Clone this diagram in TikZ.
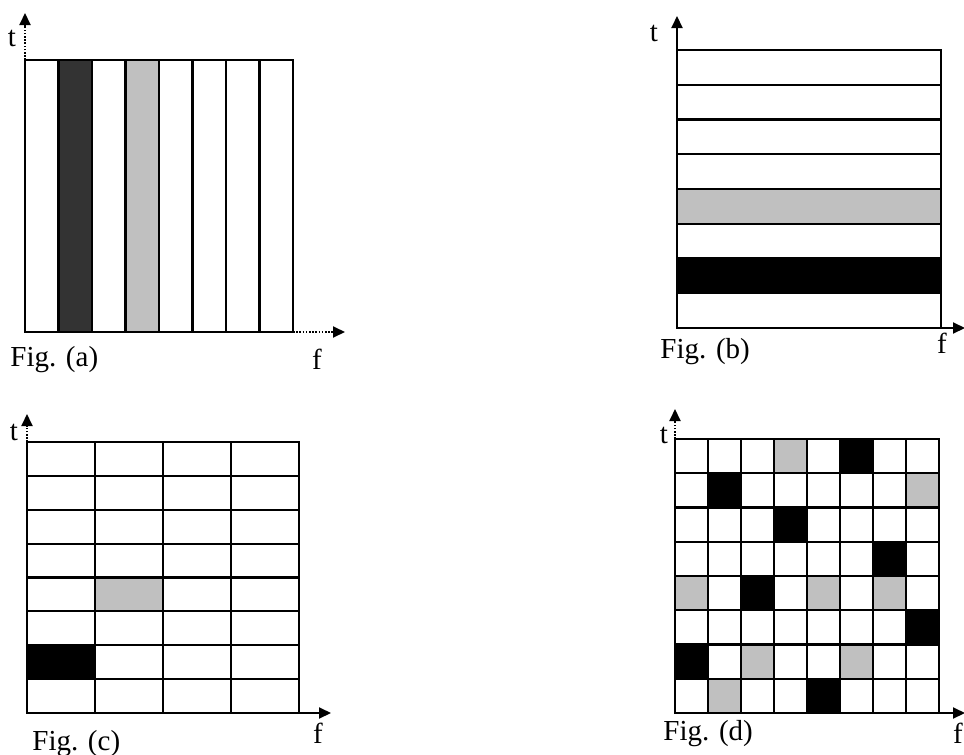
\documentclass[tikz,border=0pt]{standalone}
\usepackage{fontspec}
\setmainfont{Liberation Serif}
\usetikzlibrary{arrows.meta}
\definecolor{celldark}{HTML}{333333}
\definecolor{cellgray}{HTML}{C0C0C0}
\begin{document}
\begin{tikzpicture}[x=0.5pt, y=-0.5pt,
    gridline/.style={line width=1.05pt},
    axis/.style={line width=1pt, -{Triangle[length=6pt,width=5.5pt]}},
    dotaxis/.style={axis, dash pattern=on 0.8pt off 0.8pt},
    label/.style={inner sep=0pt, font=\fontsize{14.5}{17}\selectfont}]
    \useasboundingbox (0,0) rectangle (964,755);

    % Fig. (a): frequency slots
    \fill[celldark] (58.5,60) rectangle (92,332);
    \fill[cellgray] (125.5,60) rectangle (159,332);
    \draw[gridline] (25,60) rectangle (293,332);
    \foreach \i in {1,...,7}
        \draw[gridline] ({25+33.5*\i},60) -- ({25+33.5*\i},332);
    \draw[dotaxis] (25,60) -- (25,13);
    \draw[dotaxis] (293,332) -- (345,332);
    \node[label] (ta) at (12,38) {t};
    \node[label] (fa) at (317,359) {f};
    \node[label, anchor=base west] (capa) at (10,366) {Fig. (a)};

    % Fig. (b): time slots
    \fill[cellgray] (677,189) rectangle (941,223.75);
    \fill[black] (677,258.5) rectangle (941,293.25);
    \draw[gridline] (677,50) rectangle (941,328);
    \foreach \j in {1,...,7}
        \draw[gridline] (677,{50+34.75*\j}) -- (941,{50+34.75*\j});
    \draw[axis] (677,50) -- (677,16);
    \draw[axis] (941,328) -- (965,328);
    \node[label] (tb) at (654,33) {t};
    \node[label, anchor=base] (fb) at (942,353) {f};
    \node[label, anchor=base west] (capb) at (660,358) {Fig. (b)};

    % Fig. (c): time-frequency blocks
    \fill[cellgray] (95,577.5) rectangle (163,611.4);
    \fill[black] (27,645.3) rectangle (95,679.1);
    \draw[gridline] (27,442) rectangle (299,713);
    \foreach \i in {1,...,3}
        \draw[gridline] ({27+68*\i},442) -- ({27+68*\i},713);
    \foreach \j in {1,...,7}
        \draw[gridline] (27,{442+33.875*\j}) -- (299,{442+33.875*\j});
    \draw[dotaxis] (27,442) -- (27,414);
    \draw[axis] (299,713) -- (331,713);
    \node[label] (tc) at (14,432) {t};
    \node[label, anchor=base] (fc) at (318,743) {f};
    \node[label, anchor=base west] (capc) at (32,750) {Fig. (c)};

    % Fig. (d): hopping pattern
    \foreach \c/\r/\col in {3/0/cellgray, 5/0/black, 1/1/black, 7/1/cellgray,
            3/2/black, 6/3/black, 0/4/cellgray, 2/4/black, 4/4/cellgray,
            6/4/cellgray, 7/5/black, 0/6/black, 2/6/cellgray, 5/6/cellgray,
            1/7/cellgray, 4/7/black}
        \fill[fill=\col] ({675+33*\c},{439+34.25*\r}) rectangle ({708+33*\c},{473.25+34.25*\r});
    \draw[gridline] (675,439) rectangle (939,713);
    \foreach \i in {1,...,7} {
        \draw[gridline] ({675+33*\i},439) -- ({675+33*\i},713);
        \draw[gridline] (675,{439+34.25*\i}) -- (939,{439+34.25*\i});
    }
    \draw[dotaxis] (675,439) -- (675,409);
    \draw[axis] (939,713) -- (965,713);
    \node[label] (td) at (664,435) {t};
    \node[label, anchor=base] (fd) at (958,743) {f};
    \node[label, anchor=base west] (capd) at (663,740) {Fig. (d)};
\end{tikzpicture}
\end{document}
